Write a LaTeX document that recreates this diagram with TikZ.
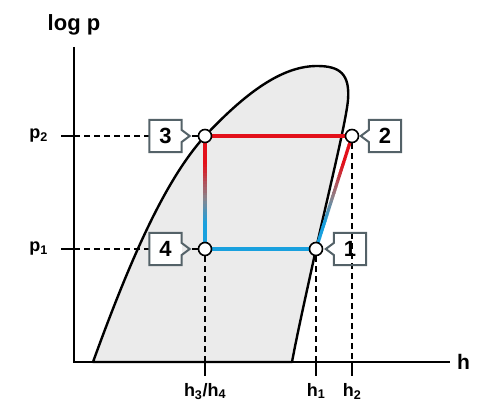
\documentclass[tikz,border=0pt]{standalone}
\usepackage{fontspec}
\setmainfont{Liberation Sans}
\usetikzlibrary{positioning, calc}

\definecolor{hotred}{RGB}{227,16,26}
\definecolor{coldblue}{RGB}{24,160,222}
\definecolor{midgray}{RGB}{138,132,140}
\definecolor{tagframe}{RGB}{84,98,104}
\definecolor{domefill}{RGB}{235,235,235}

\pgfdeclarelayer{front}
\pgfsetlayers{main,front}

\begin{document}
\begin{tikzpicture}[
    x=1pt, y=-1pt,
    state/.style={circle, draw, fill=white, line width=1.6pt, minimum size=13pt, inner sep=0pt},
    tag/.style={fill=white, minimum width=32pt, minimum height=32pt, inner sep=0pt, font=\fontsize{22}{22}\selectfont\bfseries},
    tagline/.style={draw=tagframe, line width=2pt, line join=miter},
    axis/.style={line width=2.4pt},
    guide/.style={dash pattern=on 6pt off 4pt, line width=1.4pt},
    lbl/.style={font=\fontsize{18}{18}\selectfont\bfseries, inner sep=0pt},
    hot/.style={hotred, line width=3.2pt},
    cold/.style={coldblue, line width=3.2pt}
]
\useasboundingbox (0,0) rectangle (486,403);

% saturation dome
\filldraw[fill=domefill, line width=2.4pt, line join=round]
    (93,362) .. controls (130,260) and (165,180) .. (205,136)
    .. controls (250,88) and (285,66) .. (317,66)
    .. controls (340,66) and (350,74) .. (348,100)
    .. controls (346,122) and (328,195) .. (316,249)
    .. controls (306,295) and (298,330) .. (292,362) -- cycle;

% axes
\coordinate (orig) at (74,362);
\coordinate (ytop) at (74,47);
\coordinate (xend) at (450,362);
\draw[axis] (ytop) -- (orig) -- (xend);
\node[font=\fontsize{22}{22}\selectfont\bfseries, inner sep=0pt, above=12pt of ytop] (ylab) {log p};
\node[font=\fontsize{21}{21}\selectfont\bfseries, inner sep=0pt, right=7pt of xend] (xlab) {h};

% states
\begin{pgfonlayer}{front}
\node[state] (s1) at (316,249) {};
\node[state] (s2) at (352,136) {};
\node[state] (s3) at (205,136) {};
\node[state] (s4) at (205,249) {};
\end{pgfonlayer}

% levels on the axes
\coordinate (ap2) at (74,136);
\coordinate (ap1) at (74,249);
\coordinate (ah34) at (205,362);
\coordinate (ah1) at (316,362);
\coordinate (ah2) at (352,362);
\foreach \c in {ap1,ap2}
    \draw[line width=2pt] (\c) -- ++(-13,0);
\foreach \c in {ah34,ah1,ah2}
    \draw[line width=2pt] (\c) -- ++(0,14);
\node[lbl, left=26pt of ap2] (lp2) {p\textsubscript{2}};
\node[lbl, left=26pt of ap1] (lp1) {p\textsubscript{1}};
\node[lbl, below=21pt of ah34] (lh34) {h\textsubscript{3}/h\textsubscript{4}};
\node[lbl, below=21pt of ah1] (lh1) {h\textsubscript{1}};
\node[lbl, below=21pt of ah2] (lh2) {h\textsubscript{2}};

% tags
\node[tag, left=16pt of s3] (tag3) {3};
\node[tag, left=16pt of s4] (tag4) {4};
\node[tag, right=9.5pt of s2] (tag2) {2};
\node[tag, right=10.5pt of s1] (tag1) {1};

% guide lines
\draw[guide] (ap2) -- (tag3.west);
\draw[guide] (ap1) -- (tag4.west);
\draw[guide] (s3) -- ($(tag3.east)+(8,0)$);
\draw[guide] (s4) -- ($(tag4.east)+(8,0)$);
\draw[guide] (s4) -- (ah34);
\draw[guide] (s1) -- (ah1);
\draw[guide] (s2) -- (ah2);

% cycle
\draw[hot] (s3) -- (s2);
\draw[cold] (s4) -- (s1);
\foreach \i in {0,...,39}{
    \pgfmathsetmacro{\ta}{\i/40}
    \pgfmathsetmacro{\tb}{(\i+1.3)/40}
    \pgfmathsetmacro{\tm}{(\i+0.5)/40}
    \pgfmathtruncatemacro{\pr}{100*max(0,min(1,(0.55-\tm)/0.3))}
    \pgfmathtruncatemacro{\pb}{100*max(0,min(1,(\tm-0.55)/0.22))}
    \ifnum\pr>0 \colorlet{seg}{hotred!\pr!midgray}\else\colorlet{seg}{coldblue!\pb!midgray}\fi
    \draw[seg, line width=3.2pt] ($(s3)!\ta!(s4)$) -- ($(s3)!\tb!(s4)$);
    \draw[seg, line width=3.2pt] ($(s2)!\ta!(s1)$) -- ($(s2)!\tb!(s1)$);
}

% tag outlines
\foreach \t in {tag3,tag4}
    \draw[tagline] ($(\t.east)+(0,-6)$) -- (\t.north east) -- (\t.north west) -- (\t.south west) -- (\t.south east) -- ($(\t.east)+(0,6)$) -- ($(\t.east)+(8,0)$) -- cycle;
\foreach \t in {tag1,tag2}
    \draw[tagline] ($(\t.west)+(0,-6)$) -- (\t.north west) -- (\t.north east) -- (\t.south east) -- (\t.south west) -- ($(\t.west)+(0,6)$) -- ($(\t.west)+(-8,0)$) -- cycle;

\end{tikzpicture}
\end{document}
